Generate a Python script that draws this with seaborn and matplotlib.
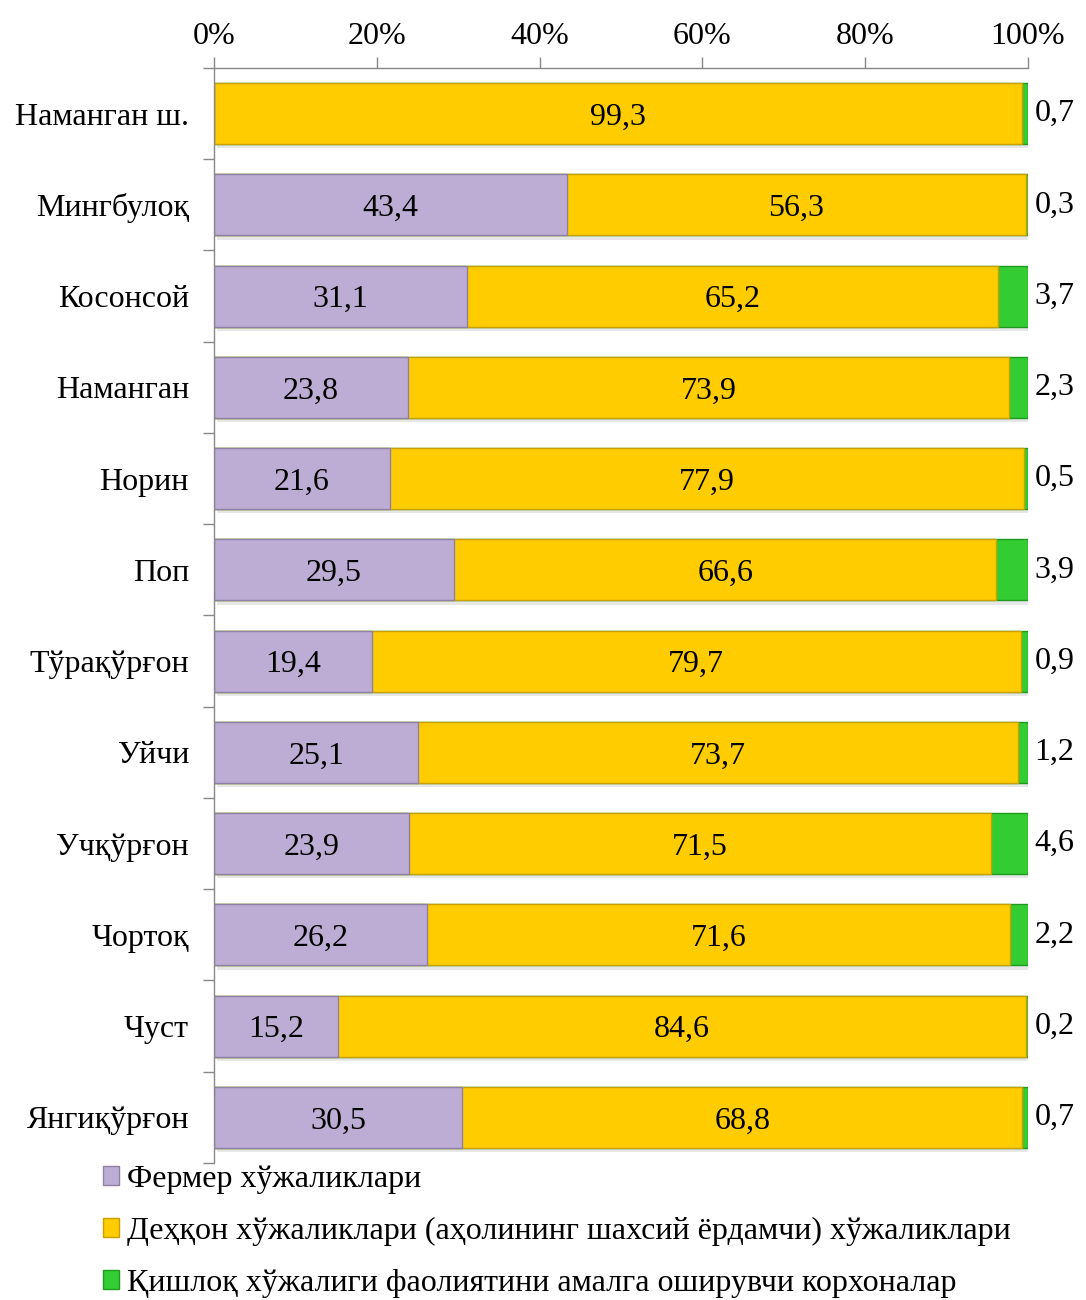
import matplotlib
matplotlib.use("Agg")
import matplotlib.pyplot as plt
import matplotlib.patheffects as pe
import seaborn as sns
import numpy as np
import pandas as pd
from matplotlib.patches import Patch
from matplotlib.ticker import FixedLocator, PercentFormatter

categories = ["Наманган ш.", "Мингбулоқ", "Косонсой", "Наманган", "Норин", "Поп",
              "Тўрақўрғон", "Уйчи", "Учқўрғон", "Чортоқ", "Чуст", "Янгиқўрғон"]
farmer = [0, 43.4, 31.1, 23.8, 21.6, 29.5, 19.4, 25.1, 23.9, 26.2, 15.2, 30.5]
dehqon = [99.3, 56.3, 65.2, 73.9, 77.9, 66.6, 79.7, 73.7, 71.5, 71.6, 84.6, 68.8]
corp = [0.7, 0.3, 3.7, 2.3, 0.5, 3.9, 0.9, 1.2, 4.6, 2.2, 0.2, 0.7]
series_names = ["Фермер хўжаликлари",
                "Деҳқон хўжаликлари (аҳолининг шахсий ёрдамчи) хўжаликлари",
                "Қишлоқ хўжалиги фаолиятини амалга оширувчи корхоналар"]
colors = ["#BDADD5", "#FFCC00", "#33CC33"]
edges = ["#8E80A6", "#C9A000", "#1E9A1E"]

sns.set_theme(style="white")
plt.rcParams['font.family'] = ['Liberation Serif', 'DejaVu Serif']
plt.rcParams['text.color'] = 'black'
plt.rcParams['xtick.color'] = 'black'
plt.rcParams['ytick.color'] = 'black'

df = pd.DataFrame({"cat": categories, "f": farmer, "d": dehqon, "c": corp})
df["cum1"] = df["f"]
df["cum2"] = df["f"] + df["d"]
df["cum3"] = df["f"] + df["d"] + df["c"]

fig = plt.figure(figsize=(10.86, 13), dpi=100)
ax = fig.add_axes([0.197, 0.1054, 0.7496, 0.8423])

for col, c, e in [("cum3", colors[2], edges[2]), ("cum2", colors[1], edges[1]), ("cum1", colors[0], edges[0])]:
    sns.barplot(data=df, x=col, y="cat", orient="h", color=c, edgecolor=e,
                linewidth=1.0, width=0.67, saturation=1, ax=ax)
for k, p in enumerate(ax.patches):
    if k < len(categories):
        p.set_path_effects([pe.SimplePatchShadow(offset=(2, -3), shadow_rgbFace="#888888", alpha=0.2),
                            pe.Normal()])

fs = 23
dy = 0.04
for i in range(len(categories)):
    if farmer[i] > 0:
        ax.text(farmer[i] / 2, i + dy, f"{farmer[i]:.1f}".replace(".", ","), ha="center", va="center", fontsize=fs)
    ax.text(farmer[i] + dehqon[i] / 2, i + dy, f"{dehqon[i]:.1f}".replace(".", ","), ha="center", va="center", fontsize=fs)
    ax.text(100.8, i, f"{corp[i]:.1f}".replace(".", ","), ha="left", va="center", fontsize=fs)

ax.set_xlim(0, 100)
ax.set_ylim(len(categories) - 0.5, -0.5)
ax.xaxis.tick_top()
ax.set_xticks([0, 20, 40, 60, 80, 100])
ax.xaxis.set_major_formatter(PercentFormatter(decimals=0))
ax.tick_params(axis="x", which="major", direction="out", length=8, width=1, color="#888888",
               labelcolor="black", labelsize=fs, pad=4, top=True, bottom=False)
ax.tick_params(axis="y", which="major", length=0, labelsize=fs, labelcolor="black", pad=18)
ax.yaxis.set_minor_locator(FixedLocator(np.arange(-0.5, len(categories) + 0.5, 1)))
ax.tick_params(axis="y", which="minor", direction="out", length=8, width=1, color="#888888", left=True)
ax.set_xlabel("")
ax.set_ylabel("")
for s in ["right", "bottom"]:
    ax.spines[s].set_visible(False)
for s in ["top", "left"]:
    ax.spines[s].set_color("#888888")
    ax.spines[s].set_linewidth(1)

handles = [Patch(facecolor=colors[k], edgecolor=edges[k], label=series_names[k]) for k in range(3)]
fig.legend(handles=handles, loc="upper left", bbox_to_anchor=(0.0834, 0.1138), frameon=False,
           fontsize=fs, handlelength=0.5, handleheight=0.5, handletextpad=0.25,
           labelspacing=0.72, borderaxespad=0)

fig.savefig("out.png", dpi=100)
